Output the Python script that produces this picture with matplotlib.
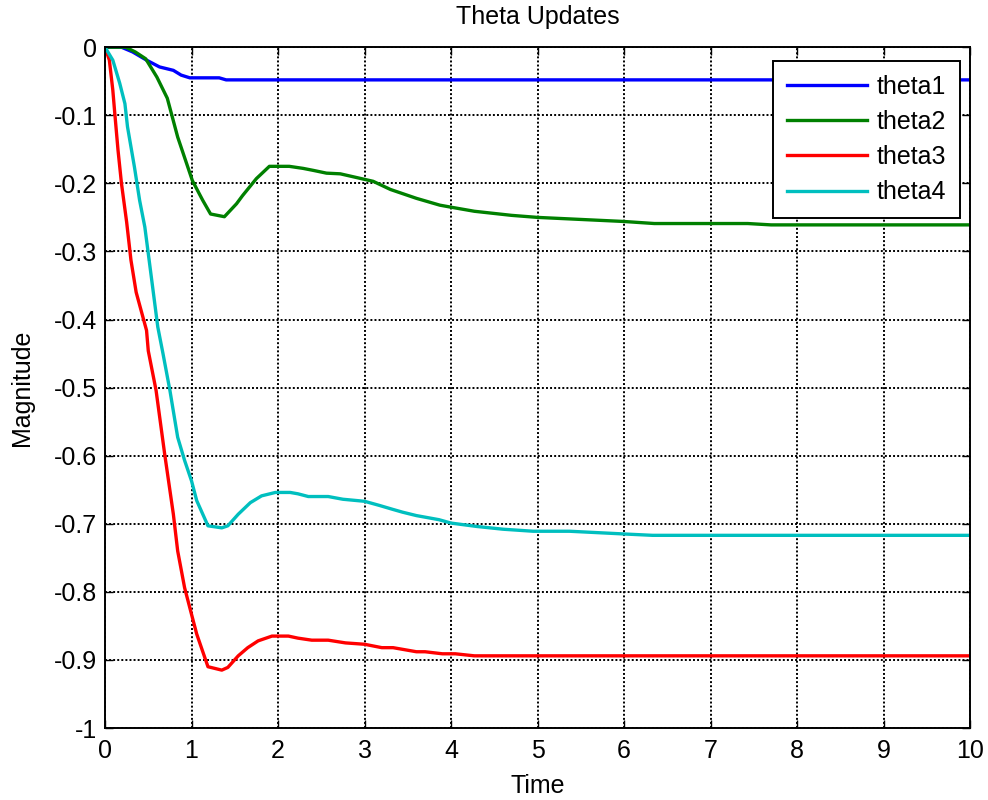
import matplotlib
matplotlib.use("Agg")
import matplotlib.pyplot as plt
from matplotlib.ticker import FuncFormatter, MultipleLocator

plt.rcParams['font.family'] = ['Liberation Sans', 'DejaVu Sans']
plt.rcParams['axes.unicode_minus'] = False

# ---- data ----
t1_x = [0, 0.19, 0.32, 0.48, 0.63, 0.79, 0.88, 0.98, 1.32, 1.4, 10]
t1_y = [0, 0, -0.007, -0.019, -0.029, -0.034, -0.041, -0.045, -0.045, -0.048, -0.048]

t2_x = [0, 0.24, 0.35, 0.47, 0.6, 0.72, 0.84, 1.01, 1.13, 1.22, 1.38, 1.52, 1.59,
        1.75, 1.9, 2.13, 2.29, 2.41, 2.56, 2.72, 3.1, 3.3, 3.6, 3.87, 4.0, 4.27,
        4.7, 5.0, 5.5, 6.0, 6.35, 7.43, 7.7, 10]
t2_y = [0, 0, -0.007, -0.017, -0.044, -0.075, -0.132, -0.196, -0.225, -0.245,
        -0.249, -0.23, -0.218, -0.193, -0.175, -0.175, -0.178, -0.181, -0.185,
        -0.186, -0.197, -0.209, -0.222, -0.232, -0.235, -0.241, -0.247, -0.25,
        -0.253, -0.256, -0.259, -0.259, -0.261, -0.261]

t3_x = [0, 0.05, 0.09, 0.11, 0.15, 0.19, 0.25, 0.30, 0.36, 0.48, 0.50, 0.59,
        0.69, 0.79, 0.84, 0.92, 1.0, 1.06, 1.19, 1.35, 1.42, 1.54, 1.65, 1.77,
        1.93, 2.12, 2.23, 2.39, 2.58, 2.78, 3.0, 3.2, 3.33, 3.6, 3.7, 3.9, 4.05,
        4.27, 10]
t3_y = [0, -0.019, -0.063, -0.093, -0.151, -0.2, -0.257, -0.313, -0.36, -0.416,
        -0.446, -0.504, -0.598, -0.686, -0.74, -0.794, -0.833, -0.862, -0.91,
        -0.915, -0.911, -0.894, -0.882, -0.872, -0.865, -0.865, -0.868, -0.871,
        -0.871, -0.875, -0.877, -0.882, -0.882, -0.888, -0.888, -0.891, -0.891,
        -0.894, -0.894]

t4_x = [0, 0.09, 0.17, 0.23, 0.26, 0.34, 0.40, 0.46, 0.50, 0.55, 0.61, 0.67,
        0.75, 0.84, 0.92, 1.0, 1.06, 1.19, 1.35, 1.42, 1.54, 1.68, 1.81, 1.97,
        2.14, 2.23, 2.35, 2.58, 2.75, 3.0, 3.17, 3.33, 3.44, 3.6, 3.86, 4.0,
        4.3, 4.6, 4.95, 5.37, 6.0, 6.33, 10]
t4_y = [0, -0.019, -0.053, -0.083, -0.117, -0.176, -0.225, -0.264, -0.303,
        -0.352, -0.411, -0.45, -0.504, -0.573, -0.607, -0.637, -0.666, -0.703,
        -0.706, -0.703, -0.686, -0.669, -0.659, -0.654, -0.654, -0.656, -0.66,
        -0.66, -0.664, -0.667, -0.673, -0.679, -0.683, -0.688, -0.694, -0.699,
        -0.704, -0.708, -0.711, -0.711, -0.715, -0.717, -0.717]

series = [
    ("theta1", t1_x, t1_y, "#0000ff"),
    ("theta2", t2_x, t2_y, "#008000"),
    ("theta3", t3_x, t3_y, "#ff0000"),
    ("theta4", t4_x, t4_y, "#00bfbf"),
]

fig = plt.figure(figsize=(9.88, 8.0), dpi=100)
ax = fig.add_axes([0.1063, 0.09, 0.8755, 0.851])

for name, xs, ys, col in series:
    ax.plot(xs, ys, color=col, lw=2.4, label=name)

ax.set_xlim(0, 10)
ax.set_ylim(-1, 0)
ax.xaxis.set_major_locator(MultipleLocator(1))
ax.yaxis.set_major_locator(MultipleLocator(0.1))
ax.yaxis.set_major_formatter(FuncFormatter(lambda v, p: "%g" % round(v, 1)))

ax.grid(True, color="black", linestyle=(0, (1, 1.1)), lw=1.4)
ax.tick_params(direction="in", top=True, right=True, length=6, width=1,
               labelsize=18, colors="black")
ax.tick_params(axis="x", pad=8)
ax.tick_params(axis="y", pad=6)
for s in ax.spines.values():
    s.set_linewidth(1.4)
    s.set_color("black")

ax.set_title("Theta Updates", fontsize=18, pad=17)
ax.set_xlabel("Time", fontsize=18, labelpad=8)
ax.set_ylabel("Magnitude", fontsize=18, labelpad=14)

leg = ax.legend(loc="upper right", bbox_to_anchor=(0.9884, 0.98), fontsize=18,
                frameon=True, fancybox=False, framealpha=1, edgecolor="black",
                handlelength=3.2, handletextpad=0.4, borderpad=0.55,
                labelspacing=0.45, borderaxespad=0)
leg.get_frame().set_linewidth(1.4)

fig.savefig("out.png", dpi=100)
